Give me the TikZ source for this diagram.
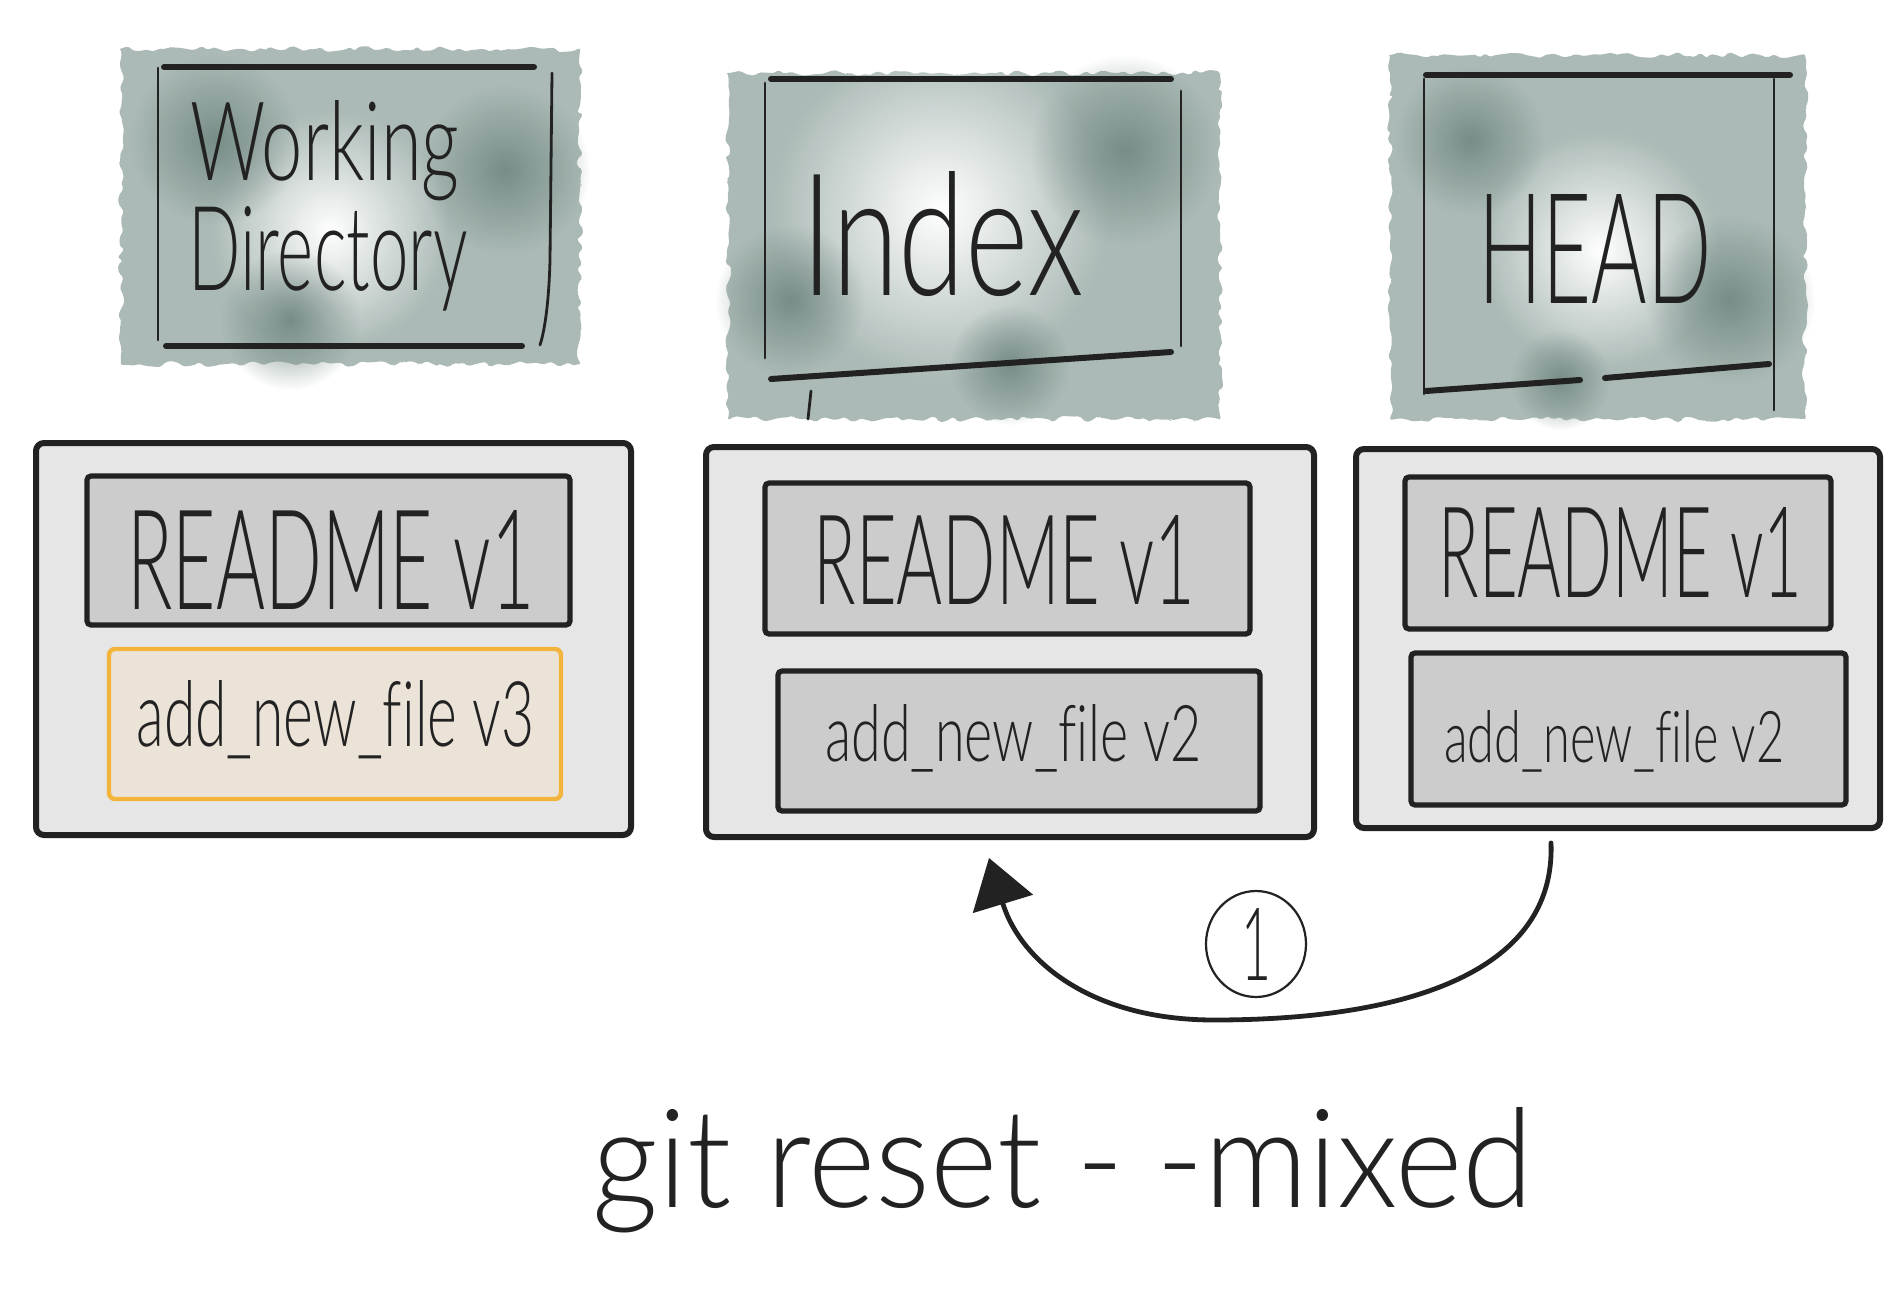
\documentclass[tikz,border=0pt]{standalone}
\usepackage{fontspec}
\usepackage{graphicx}
\setmainfont{Liberation Sans}
\IfFontExistsTF{Lato Light}{\newfontfamily\hand{Lato Light}[Ligatures=NoCommon]}{%
  \IfFontExistsTF{Poppins Light}{\newfontfamily\hand{Poppins Light}[Ligatures=NoCommon]}{%
    \newfontfamily\hand{Liberation Sans}[Ligatures=NoCommon]}}
\usetikzlibrary{arrows.meta,decorations.pathmorphing,fadings,shapes.geometric}
\definecolor{ink}{HTML}{222222}
\definecolor{boxbg}{HTML}{E6E6E6}
\definecolor{filebg}{HTML}{CCCCCC}
\definecolor{newbg}{HTML}{ECE3D8}
\definecolor{newborder}{HTML}{F3B43C}
\definecolor{washmid}{HTML}{ABBAB6}
\definecolor{washdark}{HTML}{788D88}
\tikzfading[name=blobfade, inner color=transparent!0, outer color=transparent!100]
\begin{document}
\begin{tikzpicture}[x=0.5pt,y=-0.5pt,
  outerbox/.style={draw=ink, line width=3pt, fill=boxbg, rounded corners=4pt, inner sep=0pt},
  filebox/.style={draw=ink, line width=2.6pt, fill=filebg, rounded corners=2pt, inner sep=0pt},
  newbox/.style={draw=newborder, line width=2.2pt, fill=newbg, rounded corners=3pt, inner sep=0pt},
  lbl/.style={inner sep=0pt, anchor=base west, text=ink, font=\hand},
  hline/.style={draw=ink, line width=3pt, line cap=round},
  vline/.style={draw=ink, line width=1.4pt, line cap=round},
  wash/.style={fill=washmid, decorate, decoration={random steps, segment length=3pt, amplitude=1.6pt}, rounded corners=1pt},
  lightblob/.style={fill=white, path fading=blobfade},
  darkblob/.style={fill=washdark, path fading=blobfade}
]
\useasboundingbox[fill=white] (0,0) rectangle (1903,1307);
\pgfmathsetseed{7}

% ---------- header washes ----------
\path[wash] (121,49) rectangle (580,364);
\path[lightblob] (330,230) circle (120);
\path[darkblob] (215,140) circle (85);
\path[darkblob] (505,170) circle (85);
\path[darkblob] (290,320) circle (70);

\path[wash] (728,73) rectangle (1220,419);
\path[lightblob] (940,210) circle (170);
\path[darkblob] (1125,150) circle (95);
\path[darkblob] (790,300) circle (75);
\path[darkblob] (1010,365) circle (60);

\path[wash] (1390,55) rectangle (1805,419);
\path[lightblob] (1600,250) circle (120);
\path[darkblob] (1470,140) circle (75);
\path[darkblob] (1730,300) circle (85);
\path[darkblob] (1560,380) circle (50);

% ---------- header frames ----------
\draw[hline] (164,67) -- (534,67);
\draw[hline] (166,346) -- (522,346);
\draw[vline] (158,68) -- (158,340);
\draw[vline] (552,73) -- (550,260) .. controls (549,300) and (545,330) .. (540,345);

\draw[hline] (771,79) -- (1171,79);
\draw[vline] (765,83) -- (765,358);
\draw[vline] (1181,91) -- (1181,346);
\draw[hline] (771,379) -- (1171,352);
\draw[vline] (811,391) -- (808,419);

\draw[hline] (1426,75) -- (1790,75);
\draw[vline] (1424,79) -- (1424,394);
\draw[vline] (1774,79) -- (1774,410);
\draw[hline] (1426,391) -- (1580,380);
\draw[hline] (1605,378) -- (1769,364);

% ---------- header labels ----------
\node[lbl] (wdA) at (190,180) {\resizebox{134.5pt}{40pt}{Working}};
\node[lbl] (wdB) at (188,290) {\resizebox{139.5pt}{42pt}{Directory}};
\node[lbl] (idx) at (801,295) {\resizebox{141.5pt}{62pt}{Index}};
\node[lbl] (hd) at (1478,303) {\resizebox{116.5pt}{54.5pt}{HEAD}};

% ---------- lower boxes ----------
\node[outerbox, minimum width=297.5pt, minimum height=196pt] (wdbox) at (333.5,639) {};
\node[outerbox, minimum width=304pt, minimum height=195pt] (idxbox) at (1010,642) {};
\node[outerbox, minimum width=262pt, minimum height=189.5pt] (hdbox) at (1618,638.5) {};

\node[filebox, minimum width=241.5pt, minimum height=74.5pt] (wdread) at (328.5,550.5) {};
\node[newbox, minimum width=226pt, minimum height=75pt] (wdfile) at (335,724) {};
\node[filebox, minimum width=242.5pt, minimum height=75.5pt] (idxread) at (1007.5,558.5) {};
\node[filebox, minimum width=241pt, minimum height=70pt] (idxfile) at (1019,741) {};
\node[filebox, minimum width=213pt, minimum height=76pt] (hdread) at (1618,553) {};
\node[filebox, minimum width=217.5pt, minimum height=76pt] (hdfile) at (1628.5,729) {};

\node[lbl] (t1) at (127,609) {\resizebox{203.5pt}{49.5pt}{README v1}};
\node[lbl] (t2) at (136,746) {\resizebox{199pt}{33pt}{add\_new\_file v3}};
\node[lbl] (t3) at (813,604) {\resizebox{191pt}{44.5pt}{README v1}};
\node[lbl] (t4) at (825,761) {\resizebox{188pt}{28.5pt}{add\_new\_file v2}};
\node[lbl] (t5) at (1438,597) {\resizebox{182pt}{45pt}{README v1}};
\node[lbl] (t6) at (1444,762) {\resizebox{170pt}{26pt}{add\_new\_file v2}};

% ---------- arrow ----------
\coordinate (arrS) at (1551,843);
\coordinate (arrE) at (989,858);
\draw[ink, line width=2.4pt, line cap=round, -{Triangle[length=24pt,width=31pt]}]
  (arrS) .. controls (1556,975) and (1400,1020) .. (1214,1020)
         .. controls (1090,1020) and (1020,960) .. (arrE);

\node[draw=ink, line width=1.1pt, ellipse, minimum width=50pt, minimum height=53pt, inner sep=0pt, text=ink] (step1) at (1256,944)
  {\resizebox{15pt}{36pt}{\hand 1}};

% ---------- command ----------
\node[lbl] (cmd) at (592,1207) {\resizebox{470pt}{50pt}{git reset -\hspace{0.25em}-mixed}};
\end{tikzpicture}
\end{document}
